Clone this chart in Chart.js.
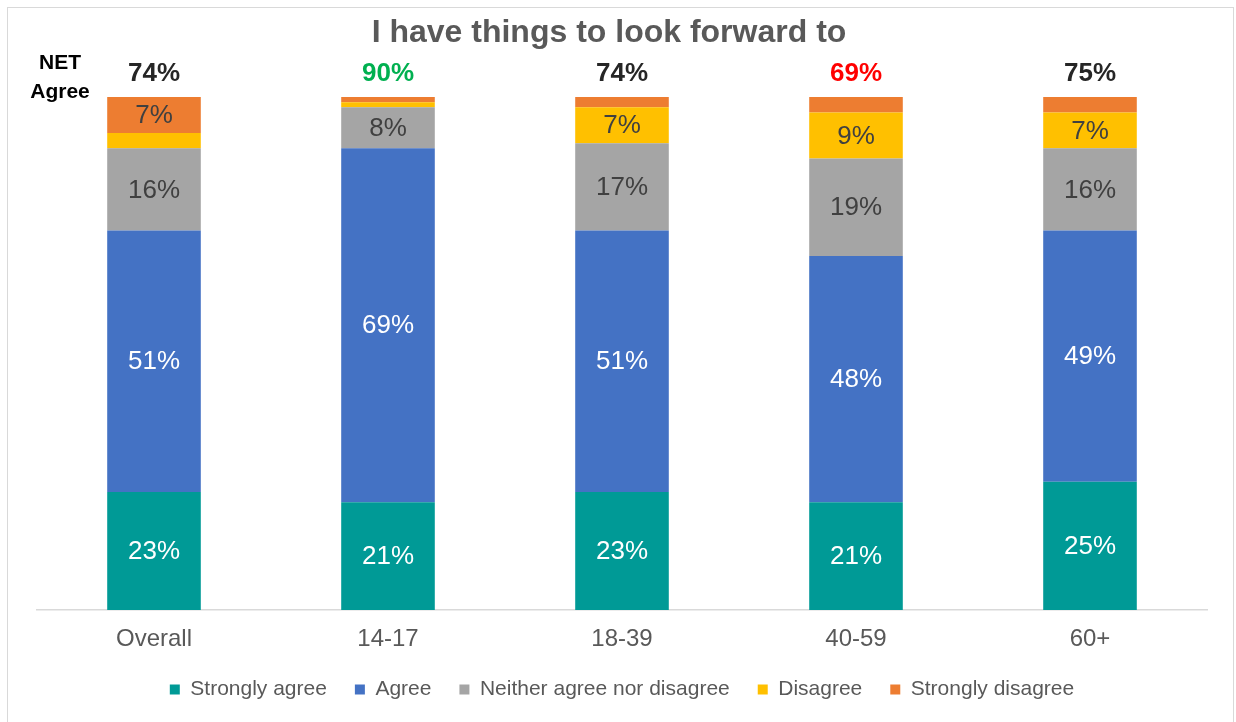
<!DOCTYPE html>
<html>
<head>
<meta charset="utf-8">
<script src="https://cdn.jsdelivr.net/npm/chart.js@4/dist/chart.umd.min.js"></script>
<style>
  html, body { margin: 0; padding: 0; background: #fff; }
  #wrap { width: 1236px; height: 722px; }
</style>
</head>
<body>
<div id="wrap"><canvas id="forward-chart" width="1236" height="722"></canvas></div>
<script>
// "I have things to look forward to" by age group

const groups = ["Overall", "14-17", "18-39", "40-59", "60+"];
const stronglyAgree = [23, 21, 23, 21, 25];
const agree = [51, 69, 51, 48, 49];
const neither = [16, 8, 17, 19, 16];
const disagree = [3, 1, 7, 9, 7];
const stronglyDisagree = [7, 1, 2, 3, 3];
const netAgree = [74, 90, 74, 69, 75];
const netColors = ["#262626", "#00B050", "#262626", "#FF0000", "#262626"];

const FONT = '"Liberation Sans", Arial, sans-serif';

// segment labels, frame, title and NET row
const labelsPlugin = {
  id: 'segmentLabels',
  beforeDraw(chart) {
    const ctx = chart.ctx;
    ctx.save();
    ctx.strokeStyle = '#D9D9D9';
    ctx.lineWidth = 1;
    ctx.strokeRect(7.5, 7.5, 1226, 720);
    ctx.restore();
  },
  afterDatasetsDraw(chart) {
    const ctx = chart.ctx;
    ctx.save();
    ctx.textAlign = 'center';
    ctx.textBaseline = 'middle';
    ctx.font = '26px ' + FONT;
    chart.data.datasets.forEach((ds, i) => {
      const meta = chart.getDatasetMeta(i);
      meta.data.forEach((bar, j) => {
        const v = ds.data[j];
        if (v < 5) return;
        ctx.fillStyle = ds.labelColor;
        ctx.fillText(v + '%', bar.x, (bar.y + bar.base) / 2 + 1);
      });
    });

    // NET agree above each bar
    const top = chart.chartArea.top;
    const first = chart.getDatasetMeta(0);
    ctx.font = 'bold 26px ' + FONT;
    first.data.forEach((bar, j) => {
      ctx.fillStyle = netColors[j];
      ctx.fillText(netAgree[j] + '%', bar.x, top - 23);
    });

    ctx.textBaseline = 'alphabetic';
    ctx.fillStyle = '#000';
    ctx.font = 'bold 21px ' + FONT;
    ctx.fillText('NET', 60, 69);
    ctx.fillText('Agree', 60, 98);

    ctx.fillStyle = '#595959';
    ctx.font = 'bold 32px ' + FONT;
    ctx.fillText('I have things to look forward to', 609, 42);
    ctx.restore();
  }
};

new Chart(document.getElementById('forward-chart'), {
  type: 'bar',
  data: {
    labels: groups,
    datasets: [
      { label: 'Strongly agree', data: stronglyAgree, backgroundColor: '#009A96', labelColor: '#FFFFFF' },
      { label: 'Agree', data: agree, backgroundColor: '#4472C4', labelColor: '#FFFFFF' },
      { label: 'Neither agree nor disagree', data: neither, backgroundColor: '#A5A5A5', labelColor: '#404040' },
      { label: 'Disagree', data: disagree, backgroundColor: '#FFC000', labelColor: '#404040' },
      { label: 'Strongly disagree', data: stronglyDisagree, backgroundColor: '#ED7D31', labelColor: '#404040' }
    ]
  },
  options: {
    responsive: false,
    animation: false,
    devicePixelRatio: 1,
    datasets: {
      bar: { barPercentage: 0.4, categoryPercentage: 1.0, borderWidth: 0 }
    },
    layout: {
      padding: { top: 97, left: 37, right: 29, bottom: 12 }
    },
    scales: {
      x: {
        stacked: true,
        grid: { display: false, drawTicks: false },
        border: { display: true, color: '#D9D9D9', width: 1.5 },
        ticks: { color: '#595959', padding: 15, font: { family: FONT, size: 24 } },
        // labels sit close to the legend, so trim the reserved band
        afterFit(scale) { scale.height = 41; }
      },
      y: {
        stacked: true,
        display: false,
        min: 0,
        max: 100
      }
    },
    plugins: {
      title: { display: false },
      tooltip: { enabled: false },
      legend: {
        position: 'bottom',
        labels: {
          boxWidth: 10,
          boxHeight: 10,
          padding: 28,
          color: '#595959',
          font: { family: FONT, size: 21 }
        }
      }
    }
  },
  plugins: [labelsPlugin]
});
</script>
</body>
</html>
